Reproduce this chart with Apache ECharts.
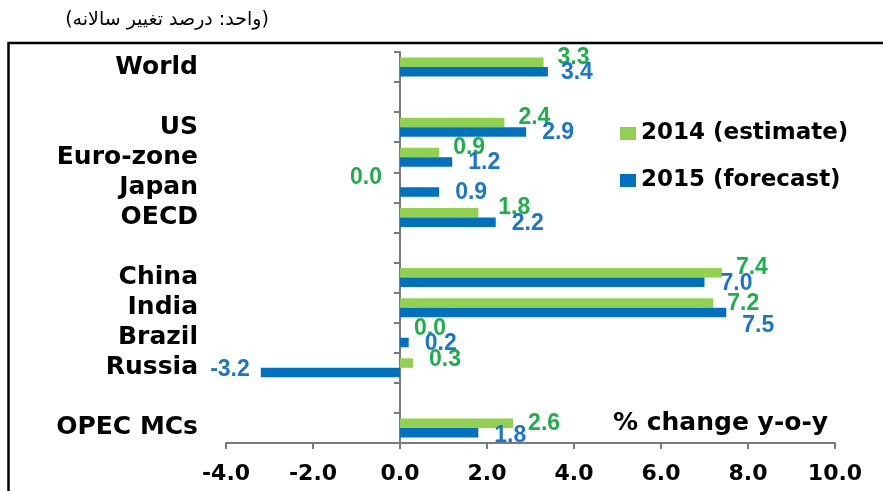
<!DOCTYPE html>
<html>
<head>
<meta charset="utf-8">
<script src="https://cdn.jsdelivr.net/npm/echarts@6/dist/echarts.min.js"></script>
<style>html,body{margin:0;padding:0;background:#fff}#c{width:883px;height:491px}</style>
</head>
<body>
<div id="c"></div>
<script>
// ---- data ----
const categories = ["World", "", "US", "Euro-zone", "Japan", "OECD", " ", "China", "India", "Brazil", "Russia", "  ", "OPEC MCs"];
const est2014 = [3.3, null, 2.4, 0.9, 0.0, 1.8, null, 7.4, 7.2, 0.0, 0.3, null, 2.6];
const fc2015  = [3.4, null, 2.9, 1.2, 0.9, 2.2, null, 7.0, 7.5, 0.2, -3.2, null, 1.8];
const xTicks = [-4, -2, 0, 2, 4, 6, 8, 10];
const seriesNames = ["2014 (estimate)", "2015 (forecast)"];
const titleText = "(واحد: درصد تغییر سالانه)";
const unitText = "% change y-o-y";

// ---- label placement tweaks (style only) ----
const greenTweaks = {
  "Japan": {position: "left", distance: 18, offset: [0, -5]},
  "Brazil": {offset: [0, -4]},
  "Russia": {offset: [0, -3], distance: 16},
  "India": {offset: [0, 1]},
  "OPEC MCs": {offset: [0, 0], distance: 15},
  "OECD": {distance: 20}
};
const blueTweaks = {
  "India": {offset: [0, 13]},
  "OPEC MCs": {offset: [0, 3]},
  "Russia": {position: "left", distance: 11, offset: [0, -3]},
  "World": {distance: 13}
};

const GREEN_BAR = "#92d050", BLUE_BAR = "#0070c0";
const GREEN_TXT = "#1fae4b", BLUE_TXT = "#1b76c8";
const AXIS_COL = "#7a7a7a";

function build(values, tweaks) {
  return values.map((v, i) => {
    if (v === null) return "-";
    const t = tweaks[categories[i]];
    return t ? {value: v, label: t} : v;
  });
}

const valueLabel = (color, distance, offset) => ({
  show: true, position: "right", distance: distance, offset: offset,
  color: color, fontFamily: "Liberation Sans", fontWeight: "bold", fontSize: 23,
  formatter: p => Number(p.value).toFixed(1)
});

const chart = echarts.init(document.getElementById("c"), null, {renderer: "canvas"});
chart.setOption({
  animation: false,
  backgroundColor: "#fff",
  grid: {left: 226, right: 48, top: 52, bottom: 48, containLabel: false, outerBoundsMode: "none"},
  legend: {
    orient: "vertical", left: 615, top: 117, itemGap: 24,
    itemWidth: 16, itemHeight: 13, icon: "rect",
    textStyle: {fontFamily: "DejaVu Sans", fontWeight: "bold", fontSize: 23, color: "#000"},
    data: seriesNames
  },
  xAxis: {
    type: "value", min: -4, max: 10, interval: 2,
    splitLine: {show: false},
    axisLine: {show: true, lineStyle: {color: AXIS_COL, width: 2}},
    axisTick: {show: true, length: 6, lineStyle: {color: AXIS_COL, width: 2}},
    axisLabel: {
      margin: 20, color: "#000", fontFamily: "DejaVu Sans", fontWeight: "bold", fontSize: 22,
      formatter: v => xTicks.includes(v) ? v.toFixed(1) : ""
    }
  },
  yAxis: {
    type: "category", data: categories, inverse: true,
    axisLine: {show: true, onZero: true, lineStyle: {color: AXIS_COL, width: 2}},
    axisTick: {show: true, length: 6, lineStyle: {color: AXIS_COL, width: 2}},
    axisLabel: {
      interval: 0, margin: 28, color: "#000",
      fontFamily: "DejaVu Sans", fontWeight: "bold", fontSize: 25
    }
  },
  series: [
    {
      name: seriesNames[0], type: "bar", barWidth: 9.5, barGap: "0%",
      itemStyle: {color: GREEN_BAR},
      label: valueLabel(GREEN_TXT, 14, [0, -5]),
      data: build(est2014, greenTweaks)
    },
    {
      name: seriesNames[1], type: "bar", barWidth: 9.5, barGap: "0%",
      itemStyle: {color: BLUE_BAR},
      label: valueLabel(BLUE_TXT, 16, [0, 1]),
      data: build(fc2015, blueTweaks)
    }
  ],
  graphic: [
    {type: "rect", silent: true, shape: {x: 8.5, y: 43, width: 1000, height: 1000},
     style: {fill: "none", stroke: "#000", lineWidth: 2.5}},
    {type: "text", x: 167, y: 20, silent: true,
     style: {text: titleText, fontFamily: "DejaVu Sans", fontSize: 19, fill: "#000", align: "center", verticalAlign: "middle"}},
    {type: "text", x: 613, y: 423, silent: true,
     style: {text: unitText, fontFamily: "DejaVu Sans", fontWeight: "bold", fontSize: 25, fill: "#000", align: "left", verticalAlign: "middle"}}
  ]
});
</script>
</body>
</html>
